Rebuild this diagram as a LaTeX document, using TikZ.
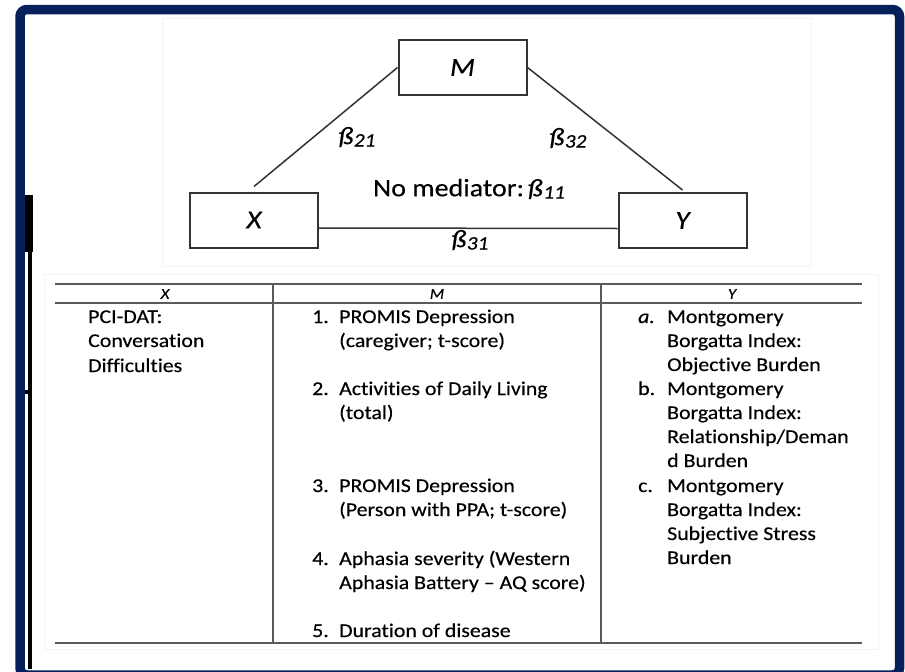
\documentclass[tikz,border=0pt]{standalone}
\usepackage{fontspec}
\setmainfont{Carlito}[FakeStretch=1.12, FakeBold=0.35, Ligatures=NoCommon]
\definecolor{rahmenblau}{HTML}{06205C}
\definecolor{linie}{HTML}{333333}
\definecolor{tabgrau}{HTML}{5A5A5A}
\definecolor{schatten}{HTML}{F3F3F3}
\newcommand{\bet}[1]{ß\kern0.5pt\raisebox{-0.2ex}{\fontsize{19}{20}\selectfont #1}}
\tikzset{
	kasten/.style={draw=linie, line width=2pt, minimum width=128pt, minimum height=55pt,
		font=\fontsize{26}{30}\selectfont\itshape},
	pfad/.style={draw=linie, line width=1.5pt},
	beta/.style={font=\fontsize{25}{30}\selectfont\itshape},
	regel/.style={draw=tabgrau, line width=2pt},
	kopf/.style={font=\fontsize{15}{16}\selectfont\itshape},
	zelle/.style={anchor=base west, inner sep=0pt, font=\fontsize{19.5}{24}\selectfont},
}
\begin{document}
\begin{tikzpicture}[x=1pt, y=-1pt]
	\useasboundingbox (0,0) rectangle (905,672);
	\fill[white] (0,0) rectangle (905,672);
	% Rahmen
	\draw[rahmenblau, line width=9.5pt, rounded corners=7pt] (20,9.5) rectangle (899.5,675);
	% Balken links
	\fill[black] (25,195) rectangle (33,252);
	\fill[black] (28,252) rectangle (32,669);
	\fill[black] (25,390) rectangle (32,394);
	% blasse Bildkanten
	\draw[schatten, line width=0.8pt] (162,18) rectangle (811,266);
	\draw[schatten, line width=0.8pt] (44,274) rectangle (878,649);

	% Modell
	\node[kasten] (mbox) at (462.5,67.5) {M};
	\node[kasten] (xbox) at (254,220) {X};
	\node[kasten] (ybox) at (682.5,220.5) {Y};
	\draw[pfad] ([yshift=5pt]xbox.north) -- (mbox.west);
	\draw[pfad] (mbox.east) -- ([yshift=2pt]ybox.north);
	\draw[pfad] ([yshift=-8pt]xbox.east) -- ([yshift=-8pt]ybox.west);
	\node[beta] (b21) at (357,137) {\bet{21}};
	\node[beta] (b32) at (568,138) {\bet{32}};
	\node[beta] (b11) at (469,189) {{\upshape No mediator:}\hspace{4pt}\bet{11}};
	\node[beta] (b31) at (470,240) {\bet{31}};

	% Tabelle
	\draw[regel] (55,284) -- (862,284);
	\draw[regel] (55,303) -- (862,303);
	\draw[regel] (55,643) -- (862,643);
	\draw[regel, line width=1.5pt] (273,284) -- (273,643);
	\draw[regel, line width=1.5pt] (601,284) -- (601,643);
	\node[kopf] (kx) at (165,294) {X};
	\node[kopf] (km) at (437,294) {M};
	\node[kopf] (ky) at (732,294) {Y};

	% Spalte X
	\foreach \y/\txt in {323/PCI-DAT:, 347/Conversation, 372/Difficulties}
		\node[zelle] (x\y) at (88,\y) {\txt};
	% Spalte M
	\foreach \y/\nr in {323/1., 395/2., 492/3., 565/4., 637/5.}
		\node[zelle] (mn\y) at (312,\y) {\nr};
	\foreach \y/\txt in {323/{PROMIS Depression}, 347/{(caregiver; t-score)},
		395/{Activities of Daily Living}, 419/{(total)},
		492/{PROMIS Depression}, 516/{(Person with PPA; t-score)},
		565/{Aphasia severity (Western}, 589/{Aphasia Battery – AQ score)},
		637/{Duration of disease}}
		\node[zelle] (m\y) at (339,\y) {\txt};
	% Spalte Y
	\node[zelle] (ya) at (638,323) {\textit{a.}};
	\node[zelle] (yb) at (638,395) {b.};
	\node[zelle] (yc) at (638,492) {c.};
	\foreach \y/\txt in {323/Montgomery, 347/{Borgatta Index:}, 371/{Objective Burden},
		395/Montgomery, 419/{Borgatta Index:}, 443/{Relationship/Deman}, 467/{d Burden},
		492/Montgomery, 516/{Borgatta Index:}, 540/{Subjective Stress}, 564/Burden}
		\node[zelle] (y\y) at (667,\y) {\txt};
\end{tikzpicture}
\end{document}
